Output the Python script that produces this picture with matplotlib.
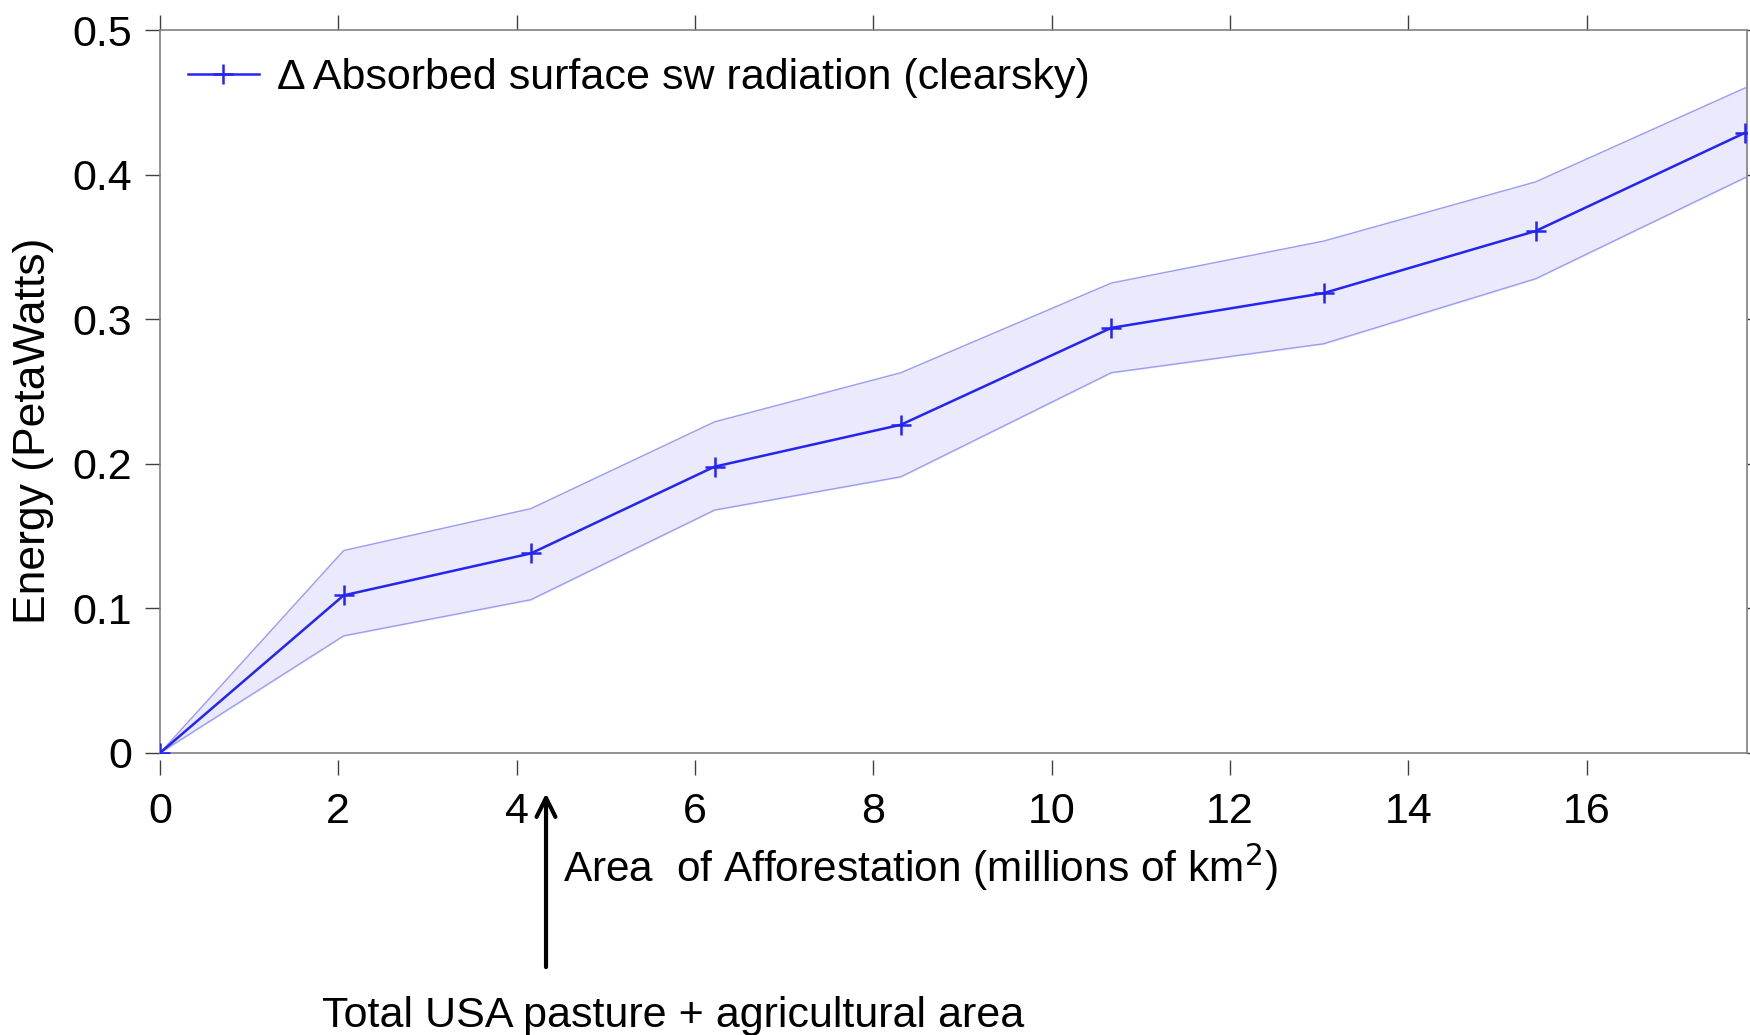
import matplotlib.pyplot as plt

area = [0, 2.06, 4.16, 6.22, 8.31, 10.67, 13.05, 15.43, 17.78]
energy = [0, 0.109, 0.138, 0.198, 0.227, 0.294, 0.318, 0.361, 0.429]
upper = [0, 0.140, 0.169, 0.229, 0.263, 0.325, 0.354, 0.395, 0.460]
lower = [0, 0.081, 0.106, 0.168, 0.191, 0.263, 0.283, 0.328, 0.398]
xticks = [0, 2, 4, 6, 8, 10, 12, 14, 16]
yticks = [0, 0.1, 0.2, 0.3, 0.4, 0.5]
ytick_labels = ['0', '0.1', '0.2', '0.3', '0.4', '0.5']
usa_area = 4.33

plt.rcParams['font.family'] = ['Liberation Sans', 'DejaVu Sans']
fs = 31

fig = plt.figure(figsize=(17.5, 10.35), dpi=100)
ax = fig.add_axes([0.0914, 0.2725, 0.9069, 0.6985])

blue = '#2424f5'
ax.fill_between(area, lower, upper, color='#eaeafc', zorder=1)
ax.plot(area, upper, color='#9c9cf6', lw=1.0, zorder=2)
ax.plot(area, lower, color='#9c9cf6', lw=1.0, zorder=2)
ax.plot(area, energy, color=blue, lw=1.8, marker='+', ms=14, mew=1.8,
        label='Δ Absorbed surface sw radiation (clearsky)', zorder=3)

ax.set_xlim(0, 17.8)
ax.set_ylim(0, 0.5)
ax.set_xticks(xticks)
ax.set_xticklabels([str(t) for t in xticks])
ax.set_yticks(yticks)
ax.set_yticklabels(ytick_labels)

spine_col = '#808080'
for s in ax.spines.values():
    s.set_color(spine_col)
    s.set_linewidth(1.2)
# bottom ticks sit a little below the frame line
ax.spines['bottom'].set_position(('outward', 5))
ax.spines['bottom'].set_color('none')
ax.axhline(0, color=spine_col, lw=1.2, clip_on=False, zorder=0.5)

ax.tick_params(axis='both', direction='out', length=11, width=1.0, colors='#404040',
               labelcolor='black', labelsize=fs, top=True, right=True)
ax.tick_params(axis='x', pad=12)
ax.tick_params(axis='y', pad=9)

ax.set_ylabel('Energy (PetaWatts)', fontsize=32)
ax.yaxis.set_label_coords(-0.067, 0.445)
ax.text(0.479, -0.158, 'Area  of Afforestation (millions of km$^2$)', transform=ax.transAxes,
        ha='center', va='center', fontsize=30.5)

ax.annotate('', xy=(usa_area, -0.052), xytext=(usa_area, -0.30),
            xycoords=('data', 'axes fraction'), textcoords=('data', 'axes fraction'),
            arrowprops=dict(arrowstyle='->', lw=3, color='black', mutation_scale=34))
ax.text(5.75, -0.364, 'Total USA pasture + agricultural area', transform=ax.get_xaxis_transform(),
        ha='center', va='center', fontsize=fs)

ax.legend(loc='upper left', frameon=False, fontsize=fs, handlelength=1.65,
          handletextpad=0.42, borderaxespad=0.25, bbox_to_anchor=(0.0, 1.0))

fig.savefig('out.png', dpi=100)
